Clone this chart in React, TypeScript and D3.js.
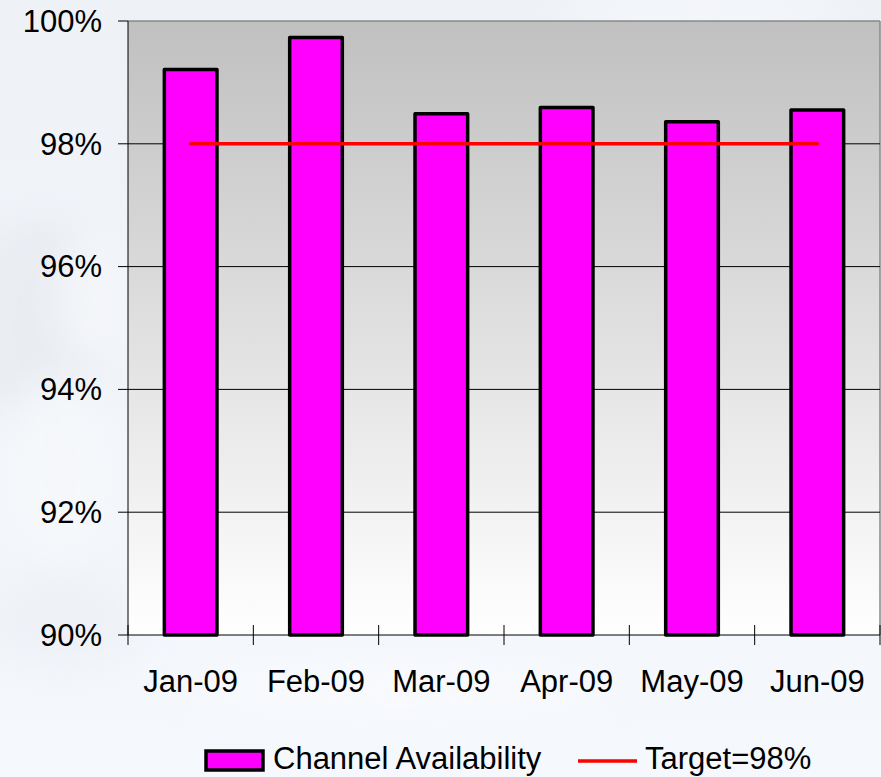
import React from "react";
import * as d3 from "d3";

const months = ["Jan-09", "Feb-09", "Mar-09", "Apr-09", "May-09", "Jun-09"];
const availability = [99.21, 99.73, 98.49, 98.59, 98.36, 98.55];
const targetValue = 98;
const yTicks = [90, 92, 94, 96, 98, 100];
const legendLabels = ["Channel Availability", "Target=98%"];

const W = 881;
const H = 777;
const margin = { top: 21, right: 1, bottom: 142, left: 128 };
const FONT = "'Liberation Sans', Arial, sans-serif";
const FS = 31;

export default function App() {
  const x = d3
    .scaleBand<string>()
    .domain(months)
    .range([margin.left, W - margin.right])
    .paddingInner(0.58)
    .paddingOuter(0.29);
  const band = d3.scaleBand<string>().domain(months).range([margin.left, W - margin.right]);
  const y = d3.scaleLinear().domain([90, 100]).range([H - margin.bottom, margin.top]);

  const plotLeft = margin.left;
  const plotRight = W - margin.right;
  const plotTop = y(100);
  const plotBottom = y(90);

  const targetLine = d3
    .line<string>()
    .x((m) => (band(m) as number) + band.bandwidth() / 2)
    .y(() => y(targetValue));

  const boundaries = [...months.map((m) => band(m) as number), plotRight];

  return (
    <svg
      width={W}
      height={H}
      style={{ position: "absolute", left: 0, top: 0, display: "block" }}
      fontFamily={FONT}
    >
      <defs>
        <linearGradient id="plotFill" x1="0" y1="0" x2="0" y2="1">
          <stop offset="0" stopColor="#c0c0c0" />
          <stop offset="1" stopColor="#ffffff" />
        </linearGradient>
        <linearGradient id="pageFill" x1="0" y1="0" x2="0" y2="1">
          <stop offset="0" stopColor="#eef1f6" />
          <stop offset="0.5" stopColor="#f1f4f9" />
          <stop offset="1" stopColor="#f5f8fc" />
        </linearGradient>
        <filter id="soft" x="-50%" y="-50%" width="200%" height="200%">
          <feGaussianBlur stdDeviation="18" />
        </filter>
      </defs>

      {/* page background with soft cloud shapes */}
      <rect x={0} y={0} width={W} height={H} fill="url(#pageFill)" />
      <g filter="url(#soft)" opacity={0.7}>
        <ellipse cx={40} cy={330} rx={70} ry={110} fill="#e6e9ee" />
        <ellipse cx={95} cy={300} rx={40} ry={60} fill="#f5f7fa" />
        <ellipse cx={60} cy={470} rx={60} ry={90} fill="#f7f9fc" />
        <ellipse cx={60} cy={620} rx={80} ry={50} fill="#eceff4" />
        <ellipse cx={400} cy={690} rx={200} ry={30} fill="#f9fbfe" />
        <ellipse cx={700} cy={10} rx={140} ry={20} fill="#f8fafd" />
      </g>

      {/* plot area */}
      <rect
        x={plotLeft}
        y={plotTop}
        width={plotRight - plotLeft}
        height={plotBottom - plotTop}
        fill="url(#plotFill)"
      />
      <line x1={plotLeft} x2={plotRight} y1={plotTop} y2={plotTop} stroke="#888" strokeWidth={1.5} />
      <line x1={plotRight} x2={plotRight} y1={plotTop} y2={plotBottom} stroke="#888" strokeWidth={1.5} />

      {/* gridlines and y ticks */}
      {yTicks.map((t) => (
        <g key={t}>
          {t !== 90 && t !== 100 && (
            <line x1={plotLeft} x2={plotRight} y1={y(t)} y2={y(t)} stroke="#000" strokeWidth={1} />
          )}
          <line x1={plotLeft - 10} x2={plotLeft} y1={y(t)} y2={y(t)} stroke="#000" strokeWidth={1} />
          <text
            x={plotLeft - 26}
            y={y(t)}
            dy="0.35em"
            textAnchor="end"
            fontSize={FS}
            fill="#000"
          >
            {`${t}%`}
          </text>
        </g>
      ))}

      {/* bars */}
      {months.map((m, i) => (
        <rect
          key={m}
          x={x(m)}
          y={y(availability[i])}
          width={x.bandwidth()}
          height={plotBottom - y(availability[i])}
          fill="#ff00ff"
          stroke="#000"
          strokeWidth={3.5}
          strokeLinejoin="round"
        />
      ))}

      {/* axes */}
      <line x1={plotLeft} x2={plotLeft} y1={plotTop} y2={plotBottom} stroke="#000" strokeWidth={1} />
      <line x1={plotLeft} x2={plotRight} y1={plotBottom} y2={plotBottom} stroke="#000" strokeWidth={1} />
      {boundaries.map((bx, i) => (
        <line key={i} x1={bx} x2={bx} y1={plotBottom - 10} y2={plotBottom + 10} stroke="#000" strokeWidth={1} />
      ))}
      {months.map((m) => (
        <text
          key={m}
          x={(band(m) as number) + band.bandwidth() / 2}
          y={plotBottom + 57}
          textAnchor="middle"
          fontSize={FS}
          fill="#000"
        >
          {m}
        </text>
      ))}

      {/* target line */}
      <path
        d={targetLine(months) as string}
        fill="none"
        stroke="#ff0000"
        strokeWidth={3.5}
        strokeLinecap="round"
      />

      {/* legend */}
      <g>
        <rect x={206} y={751} width={57} height={19} fill="#ff00ff" stroke="#000" strokeWidth={3.5} />
        <text x={273} y={769} fontSize={FS} fill="#000">
          {legendLabels[0]}
        </text>
        <line x1={578} x2={637} y1={761} y2={761} stroke="#ff0000" strokeWidth={3.5} />
        <text x={645} y={769} fontSize={FS} fill="#000">
          {legendLabels[1]}
        </text>
      </g>
    </svg>
  );
}
